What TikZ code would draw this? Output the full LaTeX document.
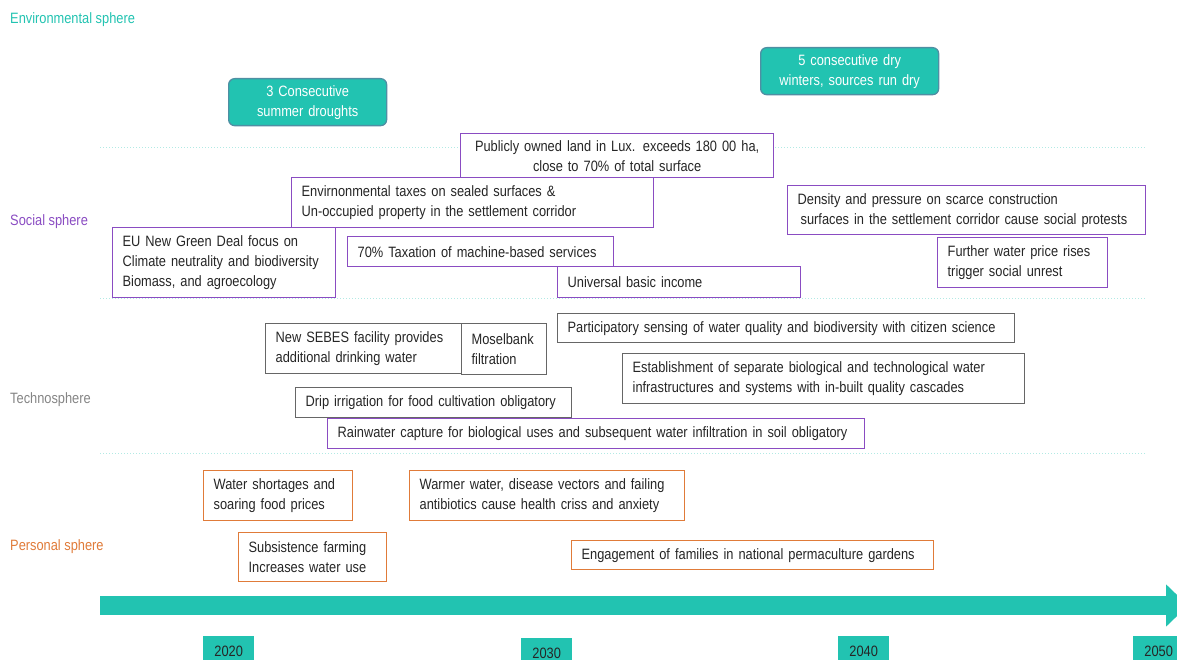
\documentclass[tikz,border=0pt]{standalone}
\usepackage{fontspec}
\setmainfont{Liberation Sans}[FakeStretch=0.855]
\usetikzlibrary{arrows.meta, positioning}
\definecolor{envteal}{HTML}{22C3B1}
\definecolor{envedge}{HTML}{4F8FA3}
\definecolor{socpurple}{HTML}{8A4CC2}
\definecolor{perorange}{HTML}{E07B39}
\definecolor{techgray}{HTML}{666666}
\definecolor{boxtext}{HTML}{262626}
\tikzset{
  box/.style={draw=#1, line width=1.3pt, fill=white, anchor=north west, inner xsep=10pt,
    inner ysep=0pt, align=left, text=boxtext, font=\fontsize{15}{20}\selectfont},
  pbox/.style={box=socpurple},
  gbox/.style={box=techgray},
  obox/.style={box=perorange},
  envbox/.style={box=envedge, fill=envteal, rounded corners=6pt, align=center, text=white},
  yr/.style={fill=envteal, anchor=north west, minimum width=51pt, minimum height=30pt,
    inner sep=0pt, text=boxtext, font=\fontsize{15}{20}\selectfont},
  sphere/.style={anchor=west, inner sep=0pt, font=\fontsize{15}{20}\selectfont},
  divline/.style={envteal!35, line width=1pt, dotted},
  timeline/.style={envteal, line width=19pt, -{Triangle[length=22pt, width=41pt]}},
}

\begin{document}
\begin{tikzpicture}[x=1pt, y=-1pt]
  \useasboundingbox (0,0) rectangle (1177,660);
  \clip (0,0) rectangle (1177,660);
  % sphere labels and separators
  \node[sphere, text=envteal] (envl) at (10,20) {Environmental sphere};
  \node[sphere, text=socpurple] (socl) at (10,222) {Social sphere};
  \node[sphere, text=techgray!80] (tecl) at (10,400) {Technosphere};
  \node[sphere, text=perorange] (perl) at (10,547) {Personal sphere};
  \draw[divline] (100,148) -- (1145,148);
  \draw[divline] (100,298) -- (1145,298);
  \draw[divline] (100,453) -- (1145,453);

  % environmental sphere
  \node[envbox, text width=138pt, minimum height=47pt] (drought) at (228,78)
    {3 Consecutive\\summer droughts};
  \node[envbox, text width=158pt, minimum height=47pt] (winters) at (760,47)
    {5 consecutive dry\\winters, sources run dry};

  % social sphere
  \node[pbox, text width=293pt, minimum height=44pt, align=center] (land) at (460,133)
    {Publicly owned land in Lux. exceeds 180 00 ha,\\close to 70\% of total surface};
  \node[pbox, text width=342pt, minimum height=50pt] (envtax) at (291,177)
    {Envirnonmental taxes on sealed surfaces \&\\Un-occupied property in the settlement corridor};
  \node[pbox, text width=203pt, minimum height=70pt] (greendeal) at (112,227)
    {EU New Green Deal focus on\\Climate neutrality and biodiversity\\Biomass, and agroecology};
  \node[pbox, text width=246pt, minimum height=30pt] (machtax) at (347,236)
    {70\% Taxation of machine-based services};
  \node[pbox, text width=223pt, minimum height=31pt] (income) at (557,266)
    {Universal basic income};
  \node[pbox, text width=338pt, minimum height=49pt] (density) at (787,185)
    {Density and pressure on scarce construction\\\hspace{3pt}surfaces in the settlement corridor cause social protests};
  \node[pbox, text width=150pt, minimum height=50pt] (unrest) at (937,237)
    {Further water price rises\\trigger social unrest};

  % technosphere
  \node[gbox, text width=176pt, minimum height=50pt] (sebes) at (265,323)
    {New SEBES facility provides\\additional drinking water};
  \node[gbox, text width=65pt, minimum height=51pt] (mosel) at (461,323)
    {Moselbank\\filtration};
  \node[gbox, text width=437pt, minimum height=29pt] (sensing) at (557,313)
    {Participatory sensing of water quality and biodiversity with citizen science};
  \node[gbox, text width=382pt, minimum height=50pt] (infra) at (622,353)
    {Establishment of separate biological and technological water\\infrastructures and systems with in-built quality cascades};
  \node[gbox, text width=256pt, minimum height=30pt] (drip) at (295,387)
    {Drip irrigation for food cultivation obligatory};
  \node[pbox, text width=517pt, minimum height=30pt] (rain) at (327,418)
    {\mbox{Rainwater capture for biological uses and subsequent water infiltration in soil obligatory}};

  % personal sphere
  \node[obox, text width=129pt, minimum height=50pt] (shortage) at (203,470)
    {Water shortages and\\soaring food prices};
  \node[obox, text width=255pt, minimum height=50pt] (health) at (409,470)
    {Warmer water, disease vectors and failing\\antibiotics cause health criss and anxiety};
  \node[obox, text width=128pt, minimum height=49pt] (farming) at (238,532)
    {Subsistence farming\\Increases water use};
  \node[obox, text width=342pt, minimum height=29pt] (gardens) at (571,540)
    {Engagement of families in national permaculture gardens};

  % timeline
  \coordinate (t0) at (100,605.5);
  \coordinate (t1) at (1188,605.5);
  \draw[timeline] (t0) -- (t1);
  \node[yr] (y2020) at (203,636) {2020};
  \node[yr] (y2030) at (521,638) {2030};
  \node[yr] (y2040) at (838,636) {2040};
  \node[yr] (y2050) at (1133,636) {2050};
\end{tikzpicture}
\end{document}
